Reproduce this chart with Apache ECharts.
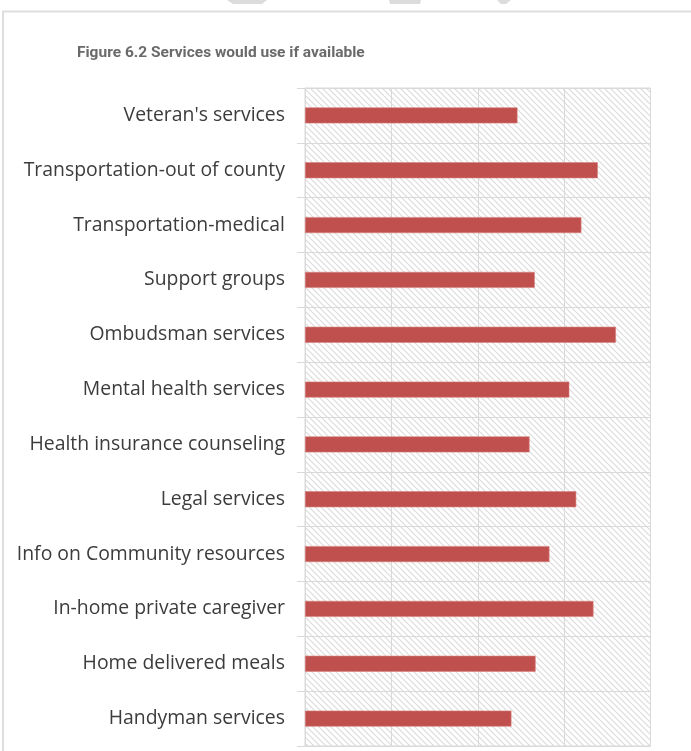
<!DOCTYPE html>
<html>
<head>
<meta charset="utf-8">
<script src="https://cdn.jsdelivr.net/npm/echarts@6/dist/echarts.min.js"></script>
<style>
html,body{margin:0;padding:0;background:#fff;}
#chart{width:691px;height:751px;}
</style>
</head>
<body>
<div id="chart"></div>
<script>
const titleText = 'Figure 6.2 Services would use if available';
const categories = [
  'Handyman services',
  'Home delivered meals',
  'In-home private caregiver',
  'Info on Community resources',
  'Legal services',
  'Health insurance counseling',
  'Mental health services',
  'Ombudsman services',
  'Support groups',
  'Transportation-medical',
  'Transportation-out of county',
  "Veteran's services"
];
const values = [23.9, 26.7, 33.4, 28.3, 31.4, 26.0, 30.6, 36.0, 26.6, 32.0, 33.9, 24.6];
const axisMin = 0, axisMax = 40, axisStep = 10;

// hatch pattern
const pc = document.createElement('canvas');
pc.width = 6; pc.height = 6;
const g = pc.getContext('2d');
g.fillStyle = '#ffffff'; g.fillRect(0,0,6,6);
g.strokeStyle = '#dadada'; g.lineWidth = 1.1;
g.beginPath();
g.moveTo(0,0); g.lineTo(6,6);
g.moveTo(-3,3); g.lineTo(3,9);
g.moveTo(3,-3); g.lineTo(9,3);
g.stroke();

const chart = echarts.init(document.getElementById('chart'), null, {renderer:'canvas'});
chart.setOption({
  animation: false,
  backgroundColor: '#ffffff',
  title: {
    text: titleText, left: 77, top: 45, padding: 0,
    textStyle: {fontFamily: 'Roboto', fontSize: 15.5, fontWeight: 'bold', color: '#6a6a6a'}
  },
  graphic: [
    {type:'rect', shape:{x:3,y:11.5,width:700,height:760}, style:{fill:'none', stroke:'#dedede', lineWidth:2}, z:-1},
    {type:'polygon', shape:{points:[[227,0],[267,0],[262,4],[233,4]]}, style:{fill:'#dcdcdc'}},
    {type:'polygon', shape:{points:[[389,0],[421,0],[420,4],[390,4]]}, style:{fill:'#dcdcdc'}},
    {type:'polygon', shape:{points:[[497,0],[511,0],[506,4],[501,4]]}, style:{fill:'#dcdcdc'}}
  ],
  grid: {
    left: 305, right: 40.5, top: 88, bottom: 5,
    show: true, backgroundColor: {image: pc, repeat: 'repeat'},
    borderColor: '#d9d9d9', borderWidth: 1
  },
  xAxis: {
    type: 'value', min: axisMin, max: axisMax, interval: axisStep,
    axisLabel: {show: false}, axisLine: {show: false}, axisTick: {show: false},
    splitLine: {show: true, lineStyle: {color: '#d9d9d9', width: 1}}
  },
  yAxis: {
    type: 'category', data: categories,
    axisLine: {show: true, lineStyle: {color: '#d9d9d9'}},
    axisTick: {show: true, length: 8, lineStyle: {color: '#d9d9d9'}},
    splitLine: {show: true, lineStyle: {color: '#d9d9d9', width: 1}},
    axisLabel: {fontFamily: 'Open Sans', fontSize: 19.4, color: '#3c3c3c', margin: 20}
  },
  series: [{
    type: 'bar', data: values, barWidth: 16,
    itemStyle: {color: '#C0504D', borderColor: '#d8817e', borderWidth: 0.6}
  }]
});
</script>
</body>
</html>
